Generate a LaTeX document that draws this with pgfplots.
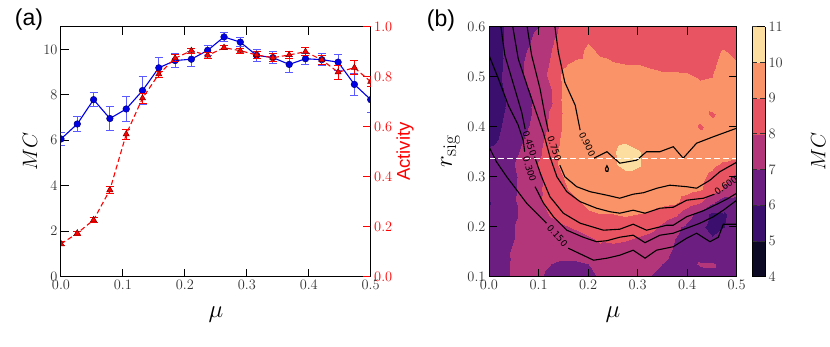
\documentclass[border=0pt]{standalone}
\usepackage{fontspec}
\usepackage{pgfplots}
\pgfplotsset{compat=1.18}
\newfontfamily\arial{Liberation Sans}
\newfontfamily\dvs{DejaVu Sans}

\definecolor{ebblue}{RGB}{90,90,255}
\definecolor{mkblue}{RGB}{0,0,230}

\pgfplotsset{
  every axis/.append style={
    scale only axis,
    tick align=inside,
    axis line style={line width=1pt},
    every tick/.style={line width=1pt, black},
    major tick length=8pt,
    tick label style={font=\fontsize{15}{18}\selectfont, black!80},
  },
  onedec/.style={/pgf/number format/.cd, fixed, fixed zerofill, precision=1},
}
\tikzset{clabel/.style={font=\dvs\fontsize{9}{10}\selectfont, inner sep=0pt}}

\begin{document}
\begin{tikzpicture}
% ---------------- panel (a) : MC ----------------
\begin{axis}[
  at={(61pt,69.3pt)}, anchor=south west,
  width=309.7pt, height=250pt,
  xmin=0, xmax=0.5, ymin=0, ymax=11,
  xtick={0,0.1,0.2,0.3,0.4,0.5}, ytick={0,2,4,6,8,10},
  xtick pos=both, xticklabel pos=lower, ytick pos=left,
  xticklabel style={onedec},
  xlabel={$\mu$}, ylabel={$MC$},
  xlabel style={font=\fontsize{30}{34}\selectfont, at={(axis description cs:0.5,-0.15)}, anchor=center},
  ylabel style={font=\fontsize{21}{25}\selectfont, at={(axis description cs:-0.1,0.5)}, anchor=center},
  clip marker paths=true,
]
\addplot[mkblue, line width=1.1pt, mark=*, mark size=3.3pt,
  mark options={fill=mkblue, draw=blue!50!black, line width=0.5pt},
  error bars/.cd, y dir=both, y explicit,
  error bar style={ebblue, line width=1pt},
  error mark options={rotate=90, ebblue, mark size=4pt, line width=1pt}]
coordinates {
  (0.0000,6.06) +- (0,0.30)
  (0.0263,6.72) +- (0,0.35)
  (0.0526,7.79) +- (0,0.32)
  (0.0789,6.96) +- (0,0.53)
  (0.1053,7.38) +- (0,0.57)
  (0.1316,8.19) +- (0,0.62)
  (0.1579,9.19) +- (0,0.44)
  (0.1842,9.51) +- (0,0.29)
  (0.2105,9.57) +- (0,0.34)
  (0.2368,9.96) +- (0,0.22)
  (0.2632,10.55) +- (0,0.18)
  (0.2895,10.32) +- (0,0.20)
  (0.3158,9.74) +- (0,0.26)
  (0.3421,9.64) +- (0,0.26)
  (0.3684,9.34) +- (0,0.37)
  (0.3947,9.59) +- (0,0.24)
  (0.4211,9.55) +- (0,0.26)
  (0.4474,9.44) +- (0,0.35)
  (0.4737,8.46) +- (0,0.50)
  (0.5000,7.79) +- (0,0.58)
};
\end{axis}

% ---------------- panel (a) : Activity ----------------
\begin{axis}[
  at={(61pt,69.3pt)}, anchor=south west,
  width=309.7pt, height=250pt,
  xmin=0, xmax=0.5, ymin=0, ymax=1,
  axis x line=none, axis y line*=right,
  ytick={0,0.2,0.4,0.6,0.8,1.0},
  yticklabel style={red, onedec},
  ytick style={red, line width=1pt},
  ylabel={Activity},
  ylabel style={red, font=\arial\fontsize{18.5}{22}\selectfont, at={(axis description cs:1.111,0.5)}, anchor=center},
  clip marker paths=true,
]
\addplot[red, line width=1.1pt, dash pattern=on 5pt off 3pt, mark=triangle*, mark size=3.6pt,
  mark options={solid, fill=red, draw=red!45!black, line width=0.5pt},
  error bars/.cd, y dir=both, y explicit,
  error bar style={solid, red, line width=1pt},
  error mark options={solid, rotate=90, red, mark size=4pt, line width=1pt}]
coordinates {
  (0.0000,0.131) +- (0,0.008)
  (0.0263,0.174) +- (0,0.008)
  (0.0526,0.227) +- (0,0.010)
  (0.0789,0.347) +- (0,0.015)
  (0.1053,0.570) +- (0,0.020)
  (0.1316,0.714) +- (0,0.020)
  (0.1579,0.810) +- (0,0.012)
  (0.1842,0.874) +- (0,0.015)
  (0.2105,0.904) +- (0,0.010)
  (0.2368,0.885) +- (0,0.012)
  (0.2632,0.916) +- (0,0.008)
  (0.2895,0.904) +- (0,0.010)
  (0.3158,0.887) +- (0,0.015)
  (0.3421,0.876) +- (0,0.015)
  (0.3684,0.887) +- (0,0.015)
  (0.3947,0.900) +- (0,0.016)
  (0.4211,0.867) +- (0,0.018)
  (0.4474,0.818) +- (0,0.028)
  (0.4737,0.836) +- (0,0.028)
  (0.5000,0.780) +- (0,0.020)
};
\end{axis}

% ---------------- panel (b) ----------------
\begin{axis}[
  at={(489pt,69.3pt)}, anchor=south west,
  width=247.7pt, height=250pt,
  xmin=0, xmax=0.5, ymin=0.1, ymax=0.6,
  xtick={0,0.1,0.2,0.3,0.4,0.5}, ytick={0.1,0.2,0.3,0.4,0.5,0.6},
  xtick pos=both, xticklabel pos=lower, ytick pos=both, yticklabel pos=left,
  xticklabel style={onedec}, yticklabel style={onedec},
  xlabel={$\mu$}, ylabel={$r_{\mathrm{sig}}$},
  xlabel style={font=\fontsize{30}{34}\selectfont, at={(axis description cs:0.5,-0.15)}, anchor=center},
  ylabel style={font=\fontsize{28}{32}\selectfont, at={(axis description cs:-0.155,0.5)}, anchor=center},
  axis on top,
  colormap={magmad}{rgb255=(13,10,37) rgb255=(58,15,110) rgb255=(109,31,129) rgb255=(180,54,122) rgb255=(232,84,97) rgb255=(250,148,104) rgb255=(252,222,160)},
  colormap access=piecewise constant,
  point meta min=4, point meta max=11,
  colorbar shift/.style={xshift=15.6pt},
  colorbar,
  colorbar style={
    at={(parent axis.north east)}, anchor=north west,
    width=12.7pt,
    colormap access=piecewise constant,
    ytick={4,5,6,7,8,9,10,11},
    yticklabel style={/pgf/number format/.cd, fixed, precision=0},
    ylabel={$MC$},
    ylabel style={font=\fontsize{21}{25}\selectfont, at={(axis description cs:5.2,0.5)}, anchor=center},
    major tick length=5pt,
    ytick style={black!80, line width=0.8pt},
  },
]
\addplot[surf, shader=interp, mesh/cols=21, point meta=\thisrow{z}] table[row sep=\\] {
x y z\\
0 0.1 6.6\\ 0.025 0.1 6.8\\ 0.05 0.1 7.1\\ 0.075 0.1 7.3\\ 0.1 0.1 7.1\\ 0.125 0.1 6.8\\ 0.15 0.1 6.6\\ 0.175 0.1 6.6\\ 0.2 0.1 6.7\\ 0.225 0.1 7.1\\ 0.25 0.1 7.3\\ 0.275 0.1 7.3\\ 0.3 0.1 7.2\\ 0.325 0.1 7.0\\ 0.35 0.1 6.8\\ 0.375 0.1 6.6\\ 0.4 0.1 6.5\\ 0.425 0.1 6.6\\ 0.45 0.1 6.7\\ 0.475 0.1 6.7\\ 0.5 0.1 6.7\\
0 0.125 6.6\\ 0.025 0.125 6.8\\ 0.05 0.125 7.1\\ 0.075 0.125 7.3\\ 0.1 0.125 7.2\\ 0.125 0.125 7.0\\ 0.15 0.125 6.8\\ 0.175 0.125 6.8\\ 0.2 0.125 7.0\\ 0.225 0.125 7.3\\ 0.25 0.125 7.5\\ 0.275 0.125 7.5\\ 0.3 0.125 7.4\\ 0.325 0.125 7.2\\ 0.35 0.125 7.0\\ 0.375 0.125 6.8\\ 0.4 0.125 6.7\\ 0.425 0.125 7.1\\ 0.45 0.125 7.1\\ 0.475 0.125 6.8\\ 0.5 0.125 6.9\\
0 0.15 6.6\\ 0.025 0.15 6.8\\ 0.05 0.15 7.1\\ 0.075 0.15 7.4\\ 0.1 0.15 7.5\\ 0.125 0.15 7.5\\ 0.15 0.15 7.5\\ 0.175 0.15 7.6\\ 0.2 0.15 7.9\\ 0.225 0.15 7.8\\ 0.25 0.15 7.6\\ 0.275 0.15 7.5\\ 0.3 0.15 7.4\\ 0.325 0.15 7.3\\ 0.35 0.15 7.2\\ 0.375 0.15 6.9\\ 0.4 0.15 6.6\\ 0.425 0.15 6.5\\ 0.45 0.15 6.4\\ 0.475 0.15 6.6\\ 0.5 0.15 6.8\\
0 0.175 6.5\\ 0.025 0.175 6.7\\ 0.05 0.175 7.0\\ 0.075 0.175 7.4\\ 0.1 0.175 7.5\\ 0.125 0.175 7.5\\ 0.15 0.175 7.6\\ 0.175 0.175 7.7\\ 0.2 0.175 7.9\\ 0.225 0.175 8.1\\ 0.25 0.175 8.2\\ 0.275 0.175 8.1\\ 0.3 0.175 7.9\\ 0.325 0.175 7.7\\ 0.35 0.175 7.4\\ 0.375 0.175 7.0\\ 0.4 0.175 6.7\\ 0.425 0.175 6.5\\ 0.45 0.175 6.1\\ 0.475 0.175 6.4\\ 0.5 0.175 6.7\\
0 0.2 6.5\\ 0.025 0.2 6.7\\ 0.05 0.2 7.0\\ 0.075 0.2 7.3\\ 0.1 0.2 7.5\\ 0.125 0.2 7.7\\ 0.15 0.2 7.9\\ 0.175 0.2 8.1\\ 0.2 0.2 8.3\\ 0.225 0.2 8.5\\ 0.25 0.2 8.6\\ 0.275 0.2 8.6\\ 0.3 0.2 8.5\\ 0.325 0.2 8.3\\ 0.35 0.2 7.8\\ 0.375 0.2 7.2\\ 0.4 0.2 6.8\\ 0.425 0.2 6.2\\ 0.45 0.2 5.7\\ 0.475 0.2 6.0\\ 0.5 0.2 6.5\\
0 0.225 6.2\\ 0.025 0.225 6.6\\ 0.05 0.225 6.9\\ 0.075 0.225 7.3\\ 0.1 0.225 7.7\\ 0.125 0.225 8.1\\ 0.15 0.225 8.4\\ 0.175 0.225 8.7\\ 0.2 0.225 8.9\\ 0.225 0.225 9.0\\ 0.25 0.225 9.0\\ 0.275 0.225 9.1\\ 0.3 0.225 9.0\\ 0.325 0.225 8.9\\ 0.35 0.225 8.6\\ 0.375 0.225 8.2\\ 0.4 0.225 7.4\\ 0.425 0.225 6.6\\ 0.45 0.225 5.8\\ 0.475 0.225 5.9\\ 0.5 0.225 6.4\\
0 0.25 5.9\\ 0.025 0.25 6.6\\ 0.05 0.25 6.9\\ 0.075 0.25 7.5\\ 0.1 0.25 7.9\\ 0.125 0.25 8.3\\ 0.15 0.25 8.6\\ 0.175 0.25 8.9\\ 0.2 0.25 9.2\\ 0.225 0.25 9.4\\ 0.25 0.25 9.5\\ 0.275 0.25 9.6\\ 0.3 0.25 9.5\\ 0.325 0.25 9.4\\ 0.35 0.25 9.3\\ 0.375 0.25 9.2\\ 0.4 0.25 8.6\\ 0.425 0.25 8.1\\ 0.45 0.25 7.2\\ 0.475 0.25 6.4\\ 0.5 0.25 6.5\\
0 0.275 6.5\\ 0.025 0.275 6.7\\ 0.05 0.275 6.9\\ 0.075 0.275 7.4\\ 0.1 0.275 7.9\\ 0.125 0.275 8.4\\ 0.15 0.275 8.9\\ 0.175 0.275 9.2\\ 0.2 0.275 9.4\\ 0.225 0.275 9.5\\ 0.25 0.275 9.5\\ 0.275 0.275 9.5\\ 0.3 0.275 9.5\\ 0.325 0.275 9.5\\ 0.35 0.275 9.4\\ 0.375 0.275 9.4\\ 0.4 0.275 9.3\\ 0.425 0.275 9.1\\ 0.45 0.275 8.6\\ 0.475 0.275 7.9\\ 0.5 0.275 7.6\\
0 0.3 6.4\\ 0.025 0.3 6.6\\ 0.05 0.3 6.9\\ 0.075 0.3 7.3\\ 0.1 0.3 7.8\\ 0.125 0.3 8.5\\ 0.15 0.3 9.0\\ 0.175 0.3 9.4\\ 0.2 0.3 9.6\\ 0.225 0.3 9.8\\ 0.25 0.3 9.8\\ 0.275 0.3 9.7\\ 0.3 0.3 9.7\\ 0.325 0.3 9.6\\ 0.35 0.3 9.6\\ 0.375 0.3 9.5\\ 0.4 0.3 9.4\\ 0.425 0.3 9.2\\ 0.45 0.3 8.8\\ 0.475 0.3 8.2\\ 0.5 0.3 7.8\\
0 0.325 6.4\\ 0.025 0.325 6.6\\ 0.05 0.325 7.0\\ 0.075 0.325 7.5\\ 0.1 0.325 8.1\\ 0.125 0.325 8.8\\ 0.15 0.325 9.2\\ 0.175 0.325 9.5\\ 0.2 0.325 9.6\\ 0.225 0.325 9.7\\ 0.25 0.325 9.9\\ 0.275 0.325 10.3\\ 0.3 0.325 10.1\\ 0.325 0.325 9.7\\ 0.35 0.325 9.6\\ 0.375 0.325 9.5\\ 0.4 0.325 9.5\\ 0.425 0.325 9.4\\ 0.45 0.325 9.2\\ 0.475 0.325 8.9\\ 0.5 0.325 8.7\\
0 0.35 6.2\\ 0.025 0.35 6.4\\ 0.05 0.35 6.8\\ 0.075 0.35 7.3\\ 0.1 0.35 7.8\\ 0.125 0.35 8.7\\ 0.15 0.35 9.3\\ 0.175 0.35 9.5\\ 0.2 0.35 9.6\\ 0.225 0.35 9.7\\ 0.25 0.35 9.9\\ 0.275 0.35 10.4\\ 0.3 0.35 10.1\\ 0.325 0.35 9.7\\ 0.35 0.35 9.6\\ 0.375 0.35 9.6\\ 0.4 0.35 9.5\\ 0.425 0.35 9.5\\ 0.45 0.35 9.5\\ 0.475 0.35 9.5\\ 0.5 0.35 9.5\\
0 0.375 5.7\\ 0.025 0.375 6.1\\ 0.05 0.375 6.6\\ 0.075 0.375 7.1\\ 0.1 0.375 7.7\\ 0.125 0.375 8.5\\ 0.15 0.375 9.2\\ 0.175 0.375 9.5\\ 0.2 0.375 9.6\\ 0.225 0.375 9.6\\ 0.25 0.375 9.7\\ 0.275 0.375 9.8\\ 0.3 0.375 9.6\\ 0.325 0.375 9.6\\ 0.35 0.375 9.5\\ 0.375 0.375 9.5\\ 0.4 0.375 9.4\\ 0.425 0.375 9.4\\ 0.45 0.375 9.4\\ 0.475 0.375 9.4\\ 0.5 0.375 9.4\\
0 0.4 5.6\\ 0.025 0.4 6.0\\ 0.05 0.4 6.5\\ 0.075 0.4 6.9\\ 0.1 0.4 7.4\\ 0.125 0.4 8.3\\ 0.15 0.4 9.1\\ 0.175 0.4 9.5\\ 0.2 0.4 9.6\\ 0.225 0.4 9.6\\ 0.25 0.4 9.6\\ 0.275 0.4 9.6\\ 0.3 0.4 9.6\\ 0.325 0.4 9.5\\ 0.35 0.4 9.5\\ 0.375 0.4 9.5\\ 0.4 0.4 9.4\\ 0.425 0.4 8.9\\ 0.45 0.4 9.3\\ 0.475 0.4 9.4\\ 0.5 0.4 9.4\\
0 0.425 5.6\\ 0.025 0.425 5.9\\ 0.05 0.425 6.4\\ 0.075 0.425 6.8\\ 0.1 0.425 7.3\\ 0.125 0.425 8.2\\ 0.15 0.425 9.1\\ 0.175 0.425 9.5\\ 0.2 0.425 9.5\\ 0.225 0.425 9.5\\ 0.25 0.425 9.6\\ 0.275 0.425 9.6\\ 0.3 0.425 9.5\\ 0.325 0.425 9.5\\ 0.35 0.425 9.5\\ 0.375 0.425 9.5\\ 0.4 0.425 9.4\\ 0.425 0.425 9.3\\ 0.45 0.425 8.9\\ 0.475 0.425 9.3\\ 0.5 0.425 9.4\\
0 0.45 5.5\\ 0.025 0.45 5.8\\ 0.05 0.45 6.4\\ 0.075 0.45 6.8\\ 0.1 0.45 7.2\\ 0.125 0.45 7.9\\ 0.15 0.45 9.2\\ 0.175 0.45 9.4\\ 0.2 0.45 9.5\\ 0.225 0.45 9.5\\ 0.25 0.45 9.6\\ 0.275 0.45 9.6\\ 0.3 0.45 9.5\\ 0.325 0.45 9.5\\ 0.35 0.45 9.5\\ 0.375 0.45 9.5\\ 0.4 0.45 9.4\\ 0.425 0.45 9.3\\ 0.45 0.45 9.4\\ 0.475 0.45 9.5\\ 0.5 0.45 9.4\\
0 0.475 5.5\\ 0.025 0.475 5.9\\ 0.05 0.475 6.5\\ 0.075 0.475 6.9\\ 0.1 0.475 7.4\\ 0.125 0.475 8.0\\ 0.15 0.475 9.1\\ 0.175 0.475 9.4\\ 0.2 0.475 9.5\\ 0.225 0.475 9.5\\ 0.25 0.475 9.6\\ 0.275 0.475 9.5\\ 0.3 0.475 9.5\\ 0.325 0.475 9.5\\ 0.35 0.475 9.5\\ 0.375 0.475 9.4\\ 0.4 0.475 9.4\\ 0.425 0.475 9.3\\ 0.45 0.475 9.4\\ 0.475 0.475 9.4\\ 0.5 0.475 9.3\\
0 0.5 5.5\\ 0.025 0.5 6.0\\ 0.05 0.5 6.6\\ 0.075 0.5 7.1\\ 0.1 0.5 7.6\\ 0.125 0.5 8.2\\ 0.15 0.5 9.2\\ 0.175 0.5 9.4\\ 0.2 0.5 9.5\\ 0.225 0.5 9.5\\ 0.25 0.5 9.5\\ 0.275 0.5 9.4\\ 0.3 0.5 9.4\\ 0.325 0.5 9.4\\ 0.35 0.5 9.3\\ 0.375 0.5 9.3\\ 0.4 0.5 9.2\\ 0.425 0.5 8.9\\ 0.45 0.5 9.0\\ 0.475 0.5 9.3\\ 0.5 0.5 9.2\\
0 0.525 5.4\\ 0.025 0.525 5.9\\ 0.05 0.525 6.6\\ 0.075 0.525 7.1\\ 0.1 0.525 7.6\\ 0.125 0.525 8.1\\ 0.15 0.525 8.9\\ 0.175 0.525 9.2\\ 0.2 0.525 9.3\\ 0.225 0.525 9.2\\ 0.25 0.525 9.1\\ 0.275 0.525 9.0\\ 0.3 0.525 9.0\\ 0.325 0.525 8.8\\ 0.35 0.525 8.6\\ 0.375 0.525 8.6\\ 0.4 0.525 8.6\\ 0.425 0.525 8.7\\ 0.45 0.525 8.9\\ 0.475 0.525 9.2\\ 0.5 0.525 9.1\\
0 0.55 5.4\\ 0.025 0.55 5.9\\ 0.05 0.55 6.6\\ 0.075 0.55 7.0\\ 0.1 0.55 7.5\\ 0.125 0.55 8.0\\ 0.15 0.55 8.4\\ 0.175 0.55 8.7\\ 0.2 0.55 9.2\\ 0.225 0.55 8.9\\ 0.25 0.55 8.6\\ 0.275 0.55 8.6\\ 0.3 0.55 8.6\\ 0.325 0.55 8.6\\ 0.35 0.55 8.5\\ 0.375 0.55 8.6\\ 0.4 0.55 8.6\\ 0.425 0.55 8.6\\ 0.45 0.55 8.8\\ 0.475 0.55 9.1\\ 0.5 0.55 8.7\\
0 0.575 5.4\\ 0.025 0.575 5.9\\ 0.05 0.575 6.5\\ 0.075 0.575 6.8\\ 0.1 0.575 7.3\\ 0.125 0.575 7.9\\ 0.15 0.575 8.3\\ 0.175 0.575 8.5\\ 0.2 0.575 8.9\\ 0.225 0.575 8.6\\ 0.25 0.575 8.4\\ 0.275 0.575 8.5\\ 0.3 0.575 8.5\\ 0.325 0.575 8.5\\ 0.35 0.575 8.5\\ 0.375 0.575 8.5\\ 0.4 0.575 8.5\\ 0.425 0.575 8.5\\ 0.45 0.575 8.5\\ 0.475 0.575 8.6\\ 0.5 0.575 8.5\\
0 0.6 5.3\\ 0.025 0.6 5.9\\ 0.05 0.6 6.4\\ 0.075 0.6 6.7\\ 0.1 0.6 7.0\\ 0.125 0.6 7.7\\ 0.15 0.6 8.2\\ 0.175 0.6 8.5\\ 0.2 0.6 8.8\\ 0.225 0.6 8.6\\ 0.25 0.6 8.5\\ 0.275 0.6 8.5\\ 0.3 0.6 8.5\\ 0.325 0.6 8.5\\ 0.35 0.6 8.5\\ 0.375 0.6 8.5\\ 0.4 0.6 8.5\\ 0.425 0.6 8.5\\ 0.45 0.6 8.5\\ 0.475 0.6 8.5\\ 0.5 0.6 8.5\\
};
% activity contour lines
\addplot[black, line width=1.1pt] coordinates {(0,0.36) (0.015,0.33) (0.0357,0.30) (0.076,0.247) (0.116,0.207)};
\addplot[black, line width=1.1pt] coordinates {(0.16,0.157) (0.211,0.133) (0.238,0.137) (0.264,0.143) (0.291,0.153) (0.315,0.137) (0.338,0.153) (0.372,0.16) (0.399,0.177) (0.419,0.187) (0.446,0.17) (0.463,0.179) (0.473,0.205) (0.5,0.205)};
\addplot[black, line width=1.1pt] coordinates {(0,0.543) (0.019,0.496) (0.039,0.443) (0.059,0.403) (0.069,0.373) (0.072,0.35)};
\addplot[black, line width=1.1pt] coordinates {(0.093,0.28) (0.11,0.247) (0.13,0.22) (0.157,0.193) (0.19,0.179) (0.217,0.17) (0.238,0.172) (0.264,0.179) (0.291,0.183) (0.315,0.168) (0.345,0.183) (0.372,0.187) (0.399,0.197) (0.426,0.207) (0.453,0.22) (0.473,0.233) (0.5,0.253)};
\addplot[black, line width=1.1pt] coordinates {(0.024,0.6) (0.032,0.543) (0.052,0.476) (0.066,0.429) (0.073,0.395)};
\addplot[black, line width=1.1pt] coordinates {(0.092,0.34) (0.106,0.3) (0.123,0.26) (0.15,0.227) (0.184,0.207) (0.231,0.193) (0.264,0.195) (0.291,0.205) (0.318,0.193) (0.359,0.203) (0.372,0.203) (0.399,0.22) (0.433,0.232) (0.46,0.245) (0.48,0.255) (0.5,0.267)};
\addplot[black, line width=1.1pt] coordinates {(0.048,0.6) (0.059,0.536) (0.079,0.476) (0.096,0.427) (0.11,0.387) (0.123,0.34) (0.137,0.3) (0.157,0.27) (0.184,0.25) (0.217,0.237) (0.244,0.23) (0.264,0.227) (0.291,0.233) (0.315,0.227) (0.345,0.237) (0.372,0.239) (0.399,0.253) (0.433,0.257) (0.455,0.265)};
\addplot[black, line width=1.1pt] coordinates {(0.077,0.6) (0.086,0.543) (0.103,0.476) (0.113,0.423) (0.12,0.39)};
\addplot[black, line width=1.1pt] coordinates {(0.143,0.323) (0.153,0.3) (0.177,0.28) (0.204,0.27) (0.238,0.263) (0.264,0.257) (0.291,0.265) (0.312,0.268) (0.339,0.277) (0.365,0.283) (0.399,0.28) (0.419,0.277) (0.446,0.293) (0.466,0.31) (0.5,0.329)};
\addplot[black, line width=1.1pt] coordinates {(0.133,0.6) (0.14,0.549) (0.153,0.489) (0.174,0.443) (0.184,0.393)};
\addplot[black, line width=1.1pt] coordinates {(0.212,0.337) (0.238,0.35) (0.264,0.327) (0.298,0.333) (0.318,0.35) (0.345,0.35) (0.372,0.36) (0.392,0.337) (0.419,0.367) (0.453,0.38) (0.5,0.397)};
\addplot[black, line width=1.1pt] coordinates {(0.236,0.311) (0.240,0.311) (0.241,0.316) (0.238,0.322) (0.235,0.316) (0.236,0.311)};
% white dashed line
\addplot[white, line width=1.3pt, dash pattern=on 6pt off 3pt] coordinates {(0,0.337) (0.5,0.337)};
% contour labels
\node[clabel, rotate=-49] at (axis cs:0.138,0.182) {0.150};
\node[clabel, rotate=-73] at (axis cs:0.082,0.315) {0.300};
\node[clabel, rotate=-71] at (axis cs:0.082,0.367) {0.450};
\node[clabel, rotate=36] at (axis cs:0.478,0.282) {0.600};
\node[clabel, rotate=-71] at (axis cs:0.132,0.357) {0.750};
\node[clabel, rotate=-64] at (axis cs:0.198,0.365) {0.900};
\end{axis}

\node[font=\arial\fontsize{23}{27}\selectfont] at (29pt,326pt) {(a)};
\node[font=\arial\fontsize{23}{27}\selectfont] at (441pt,325pt) {(b)};

\pgfresetboundingbox
\path[use as bounding box] (0pt,0pt) rectangle (830pt,346pt);
\end{tikzpicture}
\end{document}
